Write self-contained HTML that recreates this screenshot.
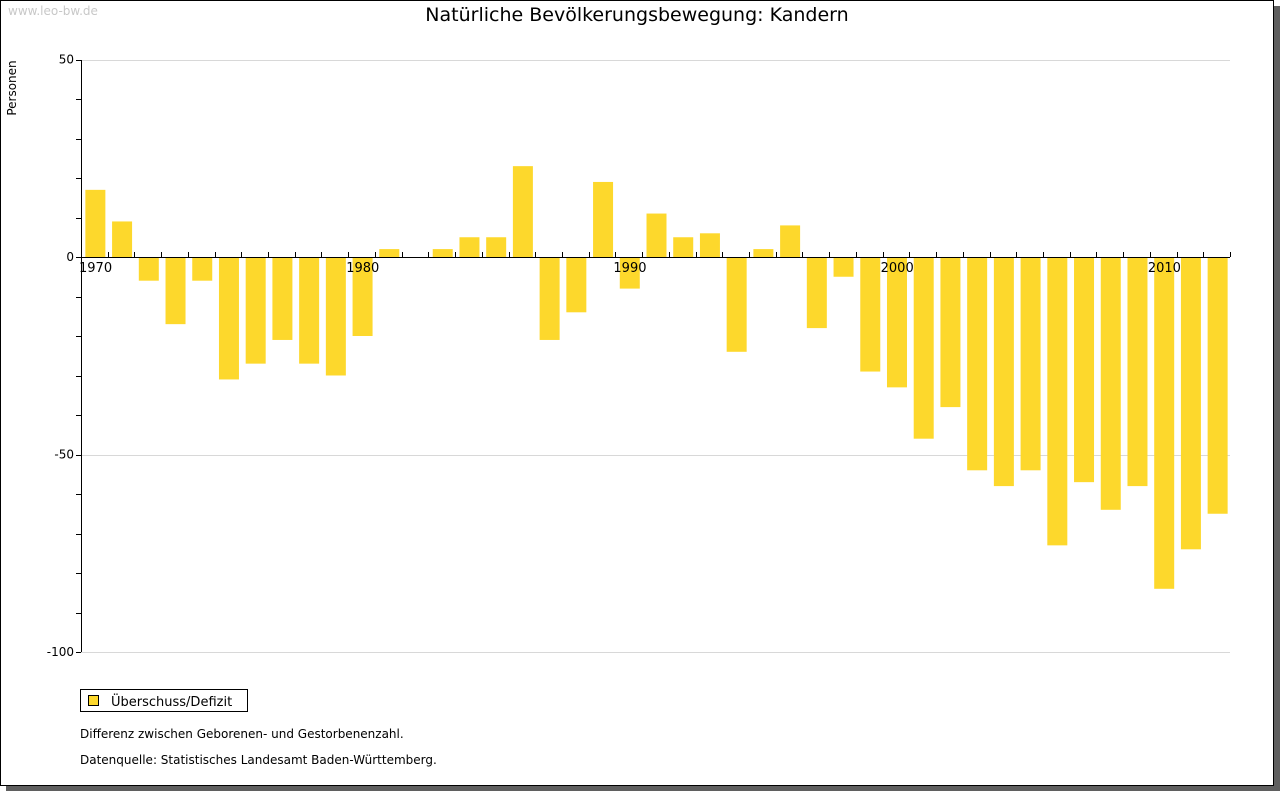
<!DOCTYPE html>
<html><head><meta charset="utf-8"><style>
html,body{margin:0;padding:0;background:#fff;}
body{width:1280px;height:791px;position:relative;overflow:hidden;font-family:"DejaVu Sans","Liberation Sans",sans-serif;}
</style></head><body>
<svg width="1280" height="791" xmlns="http://www.w3.org/2000/svg">
<rect x="6" y="6" width="1274" height="785" fill="#5f5f5f"/>
<rect x="0.5" y="0.5" width="1273" height="785" fill="#fff" stroke="#000"/>
<text x="8" y="15" font-size="12" fill="#c8c8c8">www.leo-bw.de</text>
<text x="637" y="21" font-size="19" text-anchor="middle" fill="#000">Natürliche Bevölkerungsbewegung: Kandern</text>
<text transform="translate(16,88) rotate(-90)" font-size="12" text-anchor="middle">Personen</text>
<g id="grid"></g><g id="bars"></g><g id="axes"></g>
<rect x="88.5" y="695.5" width="10" height="10" fill="#fdd82c" stroke="#000"/>
<rect x="80.5" y="689.5" width="167" height="22" fill="none" stroke="#000"/>
<text x="111" y="706" font-size="13">Überschuss/Defizit</text>
<text x="80" y="738" font-size="12">Differenz zwischen Geborenen- und Gestorbenenzahl.</text>
<text x="80" y="764" font-size="12">Datenquelle: Statistisches Landesamt Baden-Württemberg.</text>
</svg>
<script>
const years=[1970,1971,1972,1973,1974,1975,1976,1977,1978,1979,1980,1981,1982,1983,1984,1985,1986,1987,1988,1989,1990,1991,1992,1993,1994,1995,1996,1997,1998,1999,2000,2001,2002,2003,2004,2005,2006,2007,2008,2009,2010,2011,2012];
const values=[17,9,-6,-17,-6,-31,-27,-21,-27,-30,-20,2,0,2,5,5,23,-21,-14,19,-8,11,5,6,-24,2,8,-18,-5,-29,-33,-46,-38,-54,-58,-54,-73,-57,-64,-58,-84,-74,-65];
const yTicks=[50,0,-50,-100];
const xLabels=[1970,1980,1990,2000,2010];
const NS="http://www.w3.org/2000/svg";
const x0=81,x1=1230,slot=(x1-x0)/years.length;
const y=v=>257+(0-v)*(652-257)/100;
const x=yr=>x0+(yr-years[0])*slot;
function mk(t,a,p){const e=document.createElementNS(NS,t);for(const k in a)e.setAttribute(k,a[k]);document.getElementById(p).appendChild(e);return e;}
yTicks.forEach(v=>{
 const g=mk('line',{x1:x0,x2:x1,y1:Math.round(y(v))+0.5,y2:Math.round(y(v))+0.5,stroke:'#d8d8d8'},'grid');
 
 
 const t=mk('text',{x:74,y:y(v)+4,'font-size':12,'text-anchor':'end'},'axes');t.textContent=v;
 
 
});
for(let v=50;v>=-100;v-=10){
 const l=mk('line',{x1:x0-5,x2:x0,y1:Math.round(y(v))+0.5,y2:Math.round(y(v))+0.5,stroke:'#000'},'axes');
 
 
}
years.forEach((yr,i)=>{
 const v=values[i];if(v===0)return;
 const cx=x(yr)+slot/2+1;
 const r=mk('rect',{x:cx-10,width:20,y:Math.min(y(v),y(0)),height:Math.abs(y(v)-y(0)),fill:'#fdd82c'},'bars');
 
 
});
for(let i=1;i<=years.length;i++){
 const xx=Math.round(x0+i*slot)+0.5;
 const l=mk('line',{x1:xx,x2:xx,y1:252,y2:257,stroke:'#000'},'axes');
 
 
}
const ya=mk('line',{x1:x0+0.5,x2:x0+0.5,y1:60,y2:652,stroke:'#000'},'axes');


const xa=mk('line',{x1:x0,x2:x1,y1:257.5,y2:257.5,stroke:'#000'},'axes');


xLabels.forEach(yr=>{
 const t=mk('text',{x:x(yr)-2,y:272,'font-size':13},'axes');t.textContent=yr;
 
 
});
</script>
</body></html>
